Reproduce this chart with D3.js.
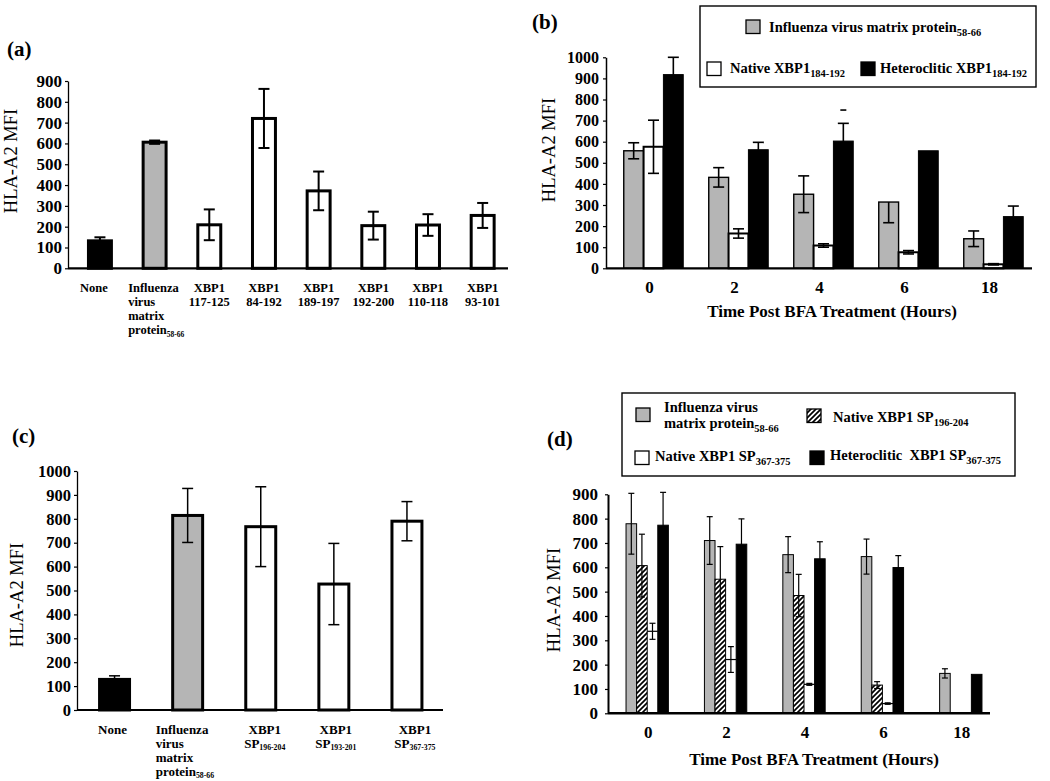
<!DOCTYPE html>
<html><head><meta charset="utf-8">
<script src="https://cdn.jsdelivr.net/npm/d3@7"></script>
<style>body{margin:0;background:#fff}svg{display:block}</style>
</head><body><svg id="c" width="1050" height="781"></svg>
<script>
// ---------------- DATA ----------------
// Panel (a)
const aLabels = [["None"],["Influenza","virus","matrix","protein|58-66"],["XBP1","117-125"],["XBP1","84-192"],["XBP1","189-197"],["XBP1","192-200"],["XBP1","110-118"],["XBP1","93-101"]];
const aValues = [132, 606, 209, 720, 372, 205, 208, 254];
const aErrors = [17, 8, 74, 142, 93, 67, 52, 60];
const aTicks = [0,100,200,300,400,500,600,700,800,900];

// Panel (b)
const bGroups = ["0","2","4","6","18"];
const bSeriesNames = ["Influenza virus matrix protein|58-66","Native XBP1|184-192","Heteroclitic XBP1|184-192"];
const bInfluenza = [557, 431, 351, 314, 140];
const bNative = [576, 165, 108, 76, 19];
const bHetero = [918, 562, 603, 557, 245];
const bInfluenzaErr = [[38,38],[46,46],[87,87],[98,0],[37,37]];
const bNativeErr = [[126,126],[22,22],[8,8],[8,8],[3,3]];
const bHeteroErr = [[82,82],[35,35],[84,84],[0,0],[50,50]];
const bStrayCap = {group:"4", series:2, value:750};
const bTicks = [0,100,200,300,400,500,600,700,800,900,1000];

// Panel (c)
const cLabels = [["None"],["Influenza","virus","matrix","protein|58-66"],["XBP1","SP|196-204"],["XBP1","SP|193-201"],["XBP1","SP|367-375"]];
const cValues = [128, 814, 767, 527, 790];
const cErrors = [15, 113, 167, 170, 82];
const cTicks = [0,100,200,300,400,500,600,700,800,900,1000];

// Panel (d)
const dGroups = ["0","2","4","6","18"];
const dSeriesNames = [["Influenza virus","matrix protein|58-66"],["Native XBP1 SP|196-204"],["Native XBP1 SP|367-375"],["Heteroclitic  XBP1 SP|367-375"]];
const dInfluenza = [779, 710, 652, 644, 164];
const dNative196 = [607, 551, 484, 116, 0];
const dNative367 = [337, 221, 119, 40, 0];
const dHetero = [773, 695, 635, 599, 160];
const dInfluenzaErr = [125, 98, 74, 72, 19];
const dNative196Err = [129, 134, 87, 14, 0];
const dNative367Err = [33, 53, 4, 3, 0];
const dHeteroErr = [135, 104, 70, 49, 0];
const dTicks = [0,100,200,300,400,500,600,700,800,900];

const xTitle = "Time Post BFA Treatment (Hours)";
const yTitle = "HLA-A2 MFI";

// ---------------- DRAWING ----------------
const SERIF = "'Liberation Serif','Times New Roman',serif";
const GRAY = "#b5b5b5";
const svg = d3.select("#c");

const defs = svg.append("defs");
const pat = defs.append("pattern").attr("id","hatch").attr("patternUnits","userSpaceOnUse")
  .attr("width",5).attr("height",5);
pat.append("rect").attr("width",5).attr("height",5).attr("fill","#fff");
pat.append("path").attr("d","M-1,1 l2,-2 M0,5 l5,-5 M4,6 l2,-2").attr("stroke","#000").attr("stroke-width",1.7);

function rich(g, x, y, str, size, opts = {}) {
  const parts = str.split("|");
  const t = g.append("text").attr("x", x).attr("y", y)
    .attr("font-family", SERIF).attr("font-size", size)
    .attr("font-weight", opts.weight || "bold")
    .attr("text-anchor", opts.anchor || "start").attr("fill","#000")
    .style("white-space","pre");
  t.append("tspan").text(parts[0]);
  if (parts.length > 1) {
    t.append("tspan").attr("font-size", size * (opts.subScale || 0.72)).attr("dy", opts.subDy != null ? opts.subDy : size * 0.3).text(parts[1]);
  }
  return t;
}

function yAxis(g, y, ticks, x, o) {
  const ax = d3.axisLeft(y).tickValues(ticks).tickSize(3).tickSizeOuter(0).tickPadding(o.pad).tickFormat(d3.format("d"));
  const a = g.append("g").attr("transform", `translate(${x},0)`).call(ax);
  a.attr("font-family", SERIF).attr("font-size", o.fs);
  a.select(".domain").attr("stroke-width", o.w).attr("stroke","#000");
  a.selectAll(".tick line").attr("stroke-width", 1.2).attr("stroke","#000");
  a.selectAll(".tick text").attr("font-weight","bold").attr("fill","#000");
}

function yTitleAt(g, x, yc) {
  g.append("text").attr("transform", `translate(${x},${yc}) rotate(-90)`)
    .attr("text-anchor","middle").attr("font-family", SERIF).attr("font-size", 18.5).attr("fill","#000").text(yTitle);
}

function errBar(g, cx, y, v, lo, hi, cap, w) {
  if (hi > 0) {
    g.append("line").attr("x1",cx).attr("x2",cx).attr("y1",y(v)).attr("y2",y(v+hi)).attr("stroke","#000").attr("stroke-width",w);
    g.append("line").attr("x1",cx-cap/2).attr("x2",cx+cap/2).attr("y1",y(v+hi)).attr("y2",y(v+hi)).attr("stroke","#000").attr("stroke-width",w);
  }
  if (lo > 0) {
    g.append("line").attr("x1",cx).attr("x2",cx).attr("y1",y(v)).attr("y2",y(v-lo)).attr("stroke","#000").attr("stroke-width",w);
    g.append("line").attr("x1",cx-cap/2).attr("x2",cx+cap/2).attr("y1",y(v-lo)).attr("y2",y(v-lo)).attr("stroke","#000").attr("stroke-width",w);
  }
}

// ---- simple panels (a) and (c)
function simplePanel(c) {
  const g = svg.append("g");
  const y = d3.scaleLinear().domain([0, c.max]).range(c.yRange);
  const x = d3.scaleBand().domain(d3.range(c.values.length)).range(c.xRange).paddingInner(c.pad).paddingOuter(c.pad/2);
  const fills = c.values.map((_, i) => i === 0 ? "#000" : i === 1 ? GRAY : "#fff");
  g.selectAll("rect.bar").data(c.values).join("rect")
    .attr("x", (d,i) => x(i)).attr("y", d => y(d))
    .attr("width", x.bandwidth()).attr("height", d => y(0) - y(d))
    .attr("fill", (d,i) => fills[i]).attr("stroke","#000").attr("stroke-width", c.barStroke);
  c.values.forEach((v,i) => errBar(g, x(i)+x.bandwidth()/2, y, v, c.errors[i], c.errors[i], c.cap, c.errW));
  yAxis(g, y, c.ticks, c.axisX, c.axis);
  g.append("line").attr("x1", c.axisX).attr("x2", c.axisEnd).attr("y1", y(0)).attr("y2", y(0)).attr("stroke","#000").attr("stroke-width", c.baseW);
  yTitleAt(g, c.yTitleX, c.yTitleY);
  c.labels.forEach((lines, i) => {
    const cx = x(i) + x.bandwidth()/2;
    const left = lines.length > 2;
    lines.forEach((ln, j) => {
      rich(g, left ? x(i) - c.leftShift : cx + (c.labelDx[i] || 0), c.labelY + j*c.lineH, ln, c.labelFs,
        {anchor: left ? "start" : "middle", subScale: c.subScale, subDy: c.subDy});
    });
  });
  rich(g, c.tagX, c.tagY, c.tag, 21);
}

simplePanel({
  values: aValues, errors: aErrors, labels: aLabels, ticks: aTicks, max: 900,
  yRange: [268.3, 81], xRange: [72.6, 510], pad: 0.58, axisX: 68, axisEnd: 508,
  barStroke: 3, cap: 11, errW: 2, baseW: 2.2, axis: {pad: 3, fs: 17, w: 1.3},
  yTitleX: 17, yTitleY: 161, labelY: 292, lineH: 14, labelFs: 12.5, subScale: 0.6, subDy: 3,
  labelDx: [-6, 0, 0, 0, 0, 0, 0, 0], leftShift: 15,
  tag: "(a)", tagX: 7, tagY: 56
});

simplePanel({
  values: cValues, errors: cErrors, labels: cLabels, ticks: cTicks, max: 1000,
  yRange: [710, 471], xRange: [78, 443.5], pad: 0.59, axisX: 77, axisEnd: 443,
  barStroke: 3, cap: 11, errW: 1.5, baseW: 2.2, axis: {pad: 3, fs: 16.5, w: 1.3},
  yTitleX: 23, yTitleY: 595, labelY: 734, lineH: 14, labelFs: 13, subScale: 0.6, subDy: 2,
  labelDx: [-2, 0, 4, 2, 8], leftShift: 17,
  tag: "(c)", tagX: 12, tagY: 443
});

// ---- grouped panels (b) and (d)
function groupedPanel(c) {
  const g = svg.append("g");
  const y = d3.scaleLinear().domain([0, c.max]).range(c.yRange);
  const x0 = d3.scaleBand().domain(c.groups).range(c.xRange).paddingInner(c.pad).paddingOuter(c.pad/2);
  const x1 = d3.scaleBand().domain(d3.range(c.series.length)).range([0, x0.bandwidth()]);
  c.series.forEach((s, si) => {
    s.values.forEach((v, gi) => {
      const gx = x0(c.groups[gi]) + x1(si);
      if (v <= 0) return;
      if (s.topOnly) {
        g.append("line").attr("x1", gx).attr("x2", gx + x1.bandwidth()).attr("y1", y(v)).attr("y2", y(v))
          .attr("stroke","#000").attr("stroke-width", 1.2);
      } else {
        g.append("rect").attr("x", gx).attr("y", y(v)).attr("width", x1.bandwidth()).attr("height", y(0) - y(v))
          .attr("fill", s.fill).attr("stroke", "#000").attr("stroke-width", s.stroke);
      }
    });
  });
  c.series.forEach((s, si) => {
    s.values.forEach((v, gi) => {
      const e = s.errs[gi];
      const lo = Array.isArray(e) ? e[0] : e, hi = Array.isArray(e) ? e[1] : e;
      if (lo === 0 && hi === 0) return;
      errBar(g, x0(c.groups[gi]) + x1(si) + x1.bandwidth()/2, y, v, lo, hi, c.cap, c.errW);
    });
  });
  if (c.stray) {
    const cx = x0(c.stray.group) + x1(c.stray.series) + x1.bandwidth()/2;
    g.append("line").attr("x1", cx-3).attr("x2", cx+3).attr("y1", y(c.stray.value)).attr("y2", y(c.stray.value)).attr("stroke","#000").attr("stroke-width", 1.6);
  }
  yAxis(g, y, c.ticks, c.axisX, c.axis);
  g.append("line").attr("x1", c.axisX).attr("x2", c.axisEnd).attr("y1", y(0)).attr("y2", y(0)).attr("stroke","#000").attr("stroke-width", c.baseW);
  c.groups.forEach(gr => {
    g.append("text").attr("x", x0(gr) + x0.bandwidth()/2 + c.tickDx).attr("y", c.tickY).attr("text-anchor","middle")
      .attr("font-family", SERIF).attr("font-weight","bold").attr("font-size", 17).text(gr);
  });
  g.append("text").attr("x", c.titleX).attr("y", c.titleY).attr("text-anchor","middle")
    .attr("font-family", SERIF).attr("font-weight","bold").attr("font-size", 17).text(xTitle);
  yTitleAt(g, c.yTitleX, c.yTitleY);
  // legend
  const L = c.legend;
  g.append("rect").attr("x", L.box[0]).attr("y", L.box[1]).attr("width", L.box[2]).attr("height", L.box[3])
    .attr("fill","#fff").attr("stroke","#000").attr("stroke-width", 1.4);
  L.items.forEach((it, i) => {
    const s = c.series[i];
    g.append("rect").attr("x", it.sx).attr("y", it.sy).attr("width", 14).attr("height", 13.5)
      .attr("fill", s.fill).attr("stroke","#000").attr("stroke-width", 1.3);
    it.lines.forEach((ln, j) => rich(g, it.tx, it.ty + j*16, ln, 14.5, {subScale: 0.72}));
  });
  rich(g, c.tagX, c.tagY, c.tag, 21);
}

groupedPanel({
  groups: bGroups, max: 1000, ticks: bTicks,
  yRange: [268.3, 57.3], xRange: [611, 1036], pad: 0.3, axisX: 606, axisEnd: 1032,
  series: [
    {values: bInfluenza, errs: bInfluenzaErr, fill: GRAY, stroke: 1.4},
    {values: bNative, errs: bNativeErr, fill: "#fff", stroke: 2},
    {values: bHetero, errs: bHeteroErr, fill: "#000", stroke: 1}
  ],
  stray: bStrayCap,
  cap: 11, errW: 1.6, baseW: 2.2, axis: {pad: 4, fs: 16, w: 1.5},
  tickY: 293, tickDx: -4, titleX: 832, titleY: 317, yTitleX: 555, yTitleY: 150,
  legend: {
    box: [700, 6, 336, 81],
    items: [
      {sx: 746, sy: 20, tx: 769, ty: 32, lines: [bSeriesNames[0]]},
      {sx: 707, sy: 62, tx: 730, ty: 73, lines: [bSeriesNames[1]]},
      {sx: 861, sy: 62, tx: 880, ty: 73, lines: [bSeriesNames[2]]}
    ]
  },
  tag: "(b)", tagX: 532, tagY: 29
});

groupedPanel({
  groups: dGroups, max: 900, ticks: dTicks,
  yRange: [713.3, 494.3], xRange: [608, 1000], pad: 0.46, axisX: 608, axisEnd: 990,
  series: [
    {values: dInfluenza, errs: dInfluenzaErr, fill: GRAY, stroke: 1},
    {values: dNative196, errs: dNative196Err, fill: "url(#hatch)", stroke: 1},
    {values: dNative367, errs: dNative367Err, fill: "#fff", stroke: 1, topOnly: true},
    {values: dHetero, errs: dHeteroErr, fill: "#000", stroke: 1}
  ],
  cap: 6, errW: 1.2, baseW: 2.5, axis: {pad: 7, fs: 17, w: 2},
  tickY: 738, tickDx: 1, titleX: 814, titleY: 765, yTitleX: 560, yTitleY: 600,
  legend: {
    box: [622, 393, 393, 83],
    items: [
      {sx: 636, sy: 408, tx: 664, ty: 412, lines: dSeriesNames[0]},
      {sx: 807, sy: 409, tx: 833, ty: 422, lines: dSeriesNames[1]},
      {sx: 635, sy: 451, tx: 655, ty: 461, lines: dSeriesNames[2]},
      {sx: 810, sy: 451, tx: 830, ty: 460, lines: dSeriesNames[3]}
    ]
  },
  tag: "(d)", tagX: 547, tagY: 446
});
</script></body></html>
